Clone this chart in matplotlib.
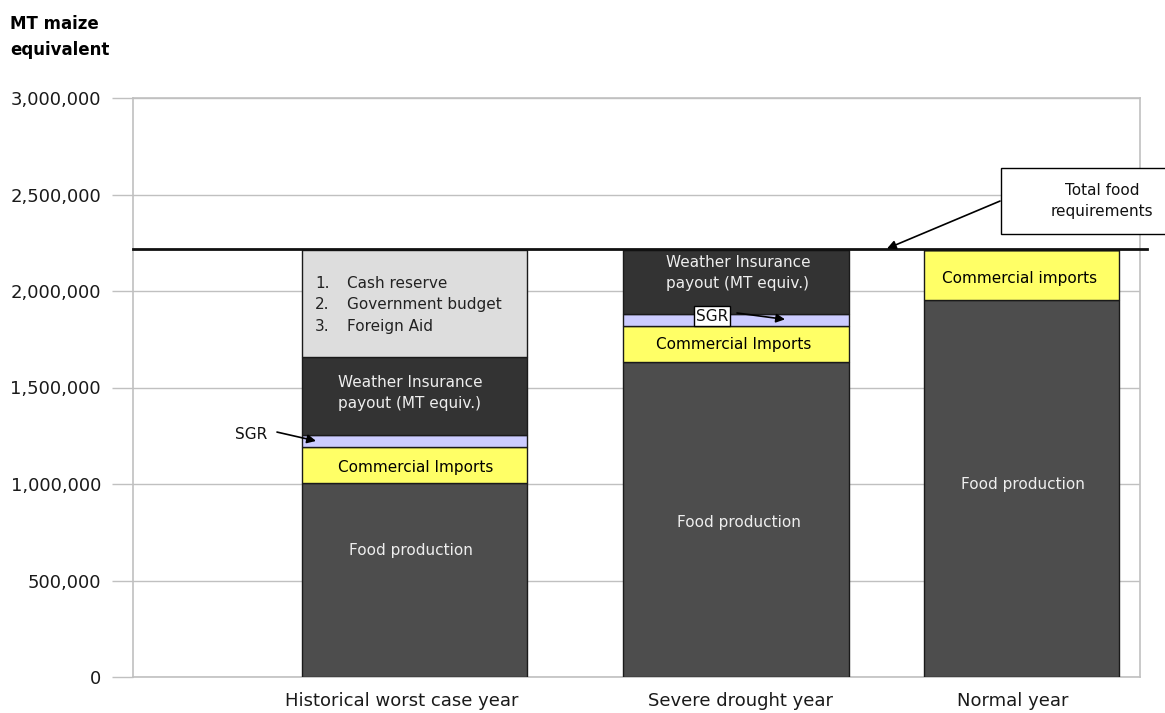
import matplotlib.pyplot as plt
import matplotlib.patches as mpatches
from matplotlib.ticker import FuncFormatter
import numpy as np

# data (MT maize equivalent)
categories = ["Historical worst case year", "Severe drought year", "Normal year"]
food_production = [1005000, 1632000, 1953000]
commercial_imports = [187000, 187000, 259000]
sgr = [62000, 62000, 0]
weather_insurance = [404000, 331000, 0]
other_sources = [554000, 0, 0]
total_requirement = 2220000

plt.rcParams['font.family'] = ['DejaVu Sans']

fig = plt.figure(figsize=(11.65, 7.13), dpi=100)
ax = fig.add_axes([133 / 1165, 36 / 713, 1007 / 1165, 579 / 713])

# layout (x in pixel-like units across the plot area)
bar_x = np.array([281.5, 603, 888])
bar_w = [225, 226, 195]
label_x = [269, 608, 880]

layers = [
    (food_production, '#4d4d4d'),
    (commercial_imports, '#ffff66'),
    (sgr, '#ccccff'),
    (weather_insurance, '#333333'),
    (other_sources, '#dddddd'),
]
bottom = np.zeros(3)
for vals, col in layers:
    vals = np.array(vals, dtype=float)
    ax.bar(bar_x, vals, bar_w, bottom=bottom, color=col, edgecolor='#1a1a1a',
           linewidth=1.0, zorder=3)
    bottom += vals

ax.set_xlim(0, 1007)
ax.set_ylim(0, 3000000)
ax.set_yticks(np.arange(0, 3000001, 500000))
ax.yaxis.set_major_formatter(FuncFormatter(lambda v, p: f"{int(v):,}"))
ax.set_xticks(label_x)
ax.set_xticklabels(categories)
ax.tick_params(axis='x', length=0, pad=11, labelsize=13, labelcolor='#1a1a1a')
ax.tick_params(axis='y', length=15, color='#c0c0c0', width=1, pad=8,
               labelsize=13, labelcolor='#1a1a1a')
ax.yaxis.grid(True, color='#c0c0c0', linewidth=1)
ax.set_axisbelow(True)
for s in ax.spines.values():
    s.set_color('#c0c0c0')
    s.set_linewidth(1.2)

# total food requirement line
ax.axhline(total_requirement, xmin=0, xmax=1.007, color='#111111', lw=2,
           clip_on=False, zorder=5)

fig.text(10 / 1165, 1 - 37 / 713, "MT maize\nequivalent", fontsize=12,
         fontweight='bold', ha='left', va='center', linespacing=1.6)

light = '#eeeeee'
fs = 11
# bar 1 labels
ax.text(278, 655000, "Food production", ha='center', va='center', color=light, fontsize=fs, zorder=6)
ax.text(283, 1088000, "Commercial Imports", ha='center', va='center', color='black', fontsize=fs, zorder=6)
ax.text(277, 1471000, "Weather Insurance\npayout (MT equiv.)", ha='center', va='center',
        color=light, fontsize=fs, linespacing=1.5, zorder=6)
for i, (txt, py) in enumerate(zip(["Cash reserve", "Government budget", "Foreign Aid"],
                                  [2041000, 1932000, 1818000])):
    ax.text(182, py, f"{i + 1}.", ha='left', va='center', color='#222222', fontsize=fs, zorder=6)
    ax.text(214, py, txt, ha='left', va='center', color='#222222', fontsize=fs, zorder=6)

# bar 2 labels
ax.text(606, 802000, "Food production", ha='center', va='center', color=light, fontsize=fs, zorder=6)
ax.text(601, 1725000, "Commercial Imports", ha='center', va='center', color='black', fontsize=fs, zorder=6)
ax.text(605, 2093000, "Weather Insurance\npayout (MT equiv.)", ha='center', va='center',
        color=light, fontsize=fs, linespacing=1.5, zorder=6)

# bar 3 labels
ax.text(890, 997000, "Food production", ha='center', va='center', color=light, fontsize=fs, zorder=6)
ax.text(887, 2067000, "Commercial imports", ha='center', va='center', color='black', fontsize=fs, zorder=6)

arrow = dict(arrowstyle='-|>', color='black', lw=1.2, mutation_scale=13, shrinkA=0, shrinkB=0)

# SGR annotations
ax.text(118, 1254000, "SGR", ha='center', va='center', color='#111111', fontsize=fs, zorder=6)
ax.annotate('', xy=(183, 1223000), xytext=(144, 1269000), arrowprops=arrow, zorder=7)
ax.text(579, 1870000, "SGR", ha='center', va='center', color='#111111', fontsize=fs, zorder=8,
        bbox=dict(boxstyle='square,pad=0.15', fc='white', ec='black', lw=1))
ax.annotate('', xy=(652, 1853000), xytext=(604, 1886000), arrowprops=arrow, zorder=7)

# total food requirements callout
box = mpatches.Rectangle((868, 2295000), 200, 342000, fc='white', ec='black', lw=1,
                         clip_on=False, zorder=6)
ax.add_patch(box)
ax.text(969, 2466000, "Total food\nrequirements", ha='center', va='center', fontsize=fs,
        color='#111111', linespacing=1.5, zorder=7, clip_on=False)
ax.annotate('', xy=(754, total_requirement), xytext=(867, 2466000), arrowprops=arrow,
            zorder=7, annotation_clip=False)

fig.savefig('out.png', dpi=100)
